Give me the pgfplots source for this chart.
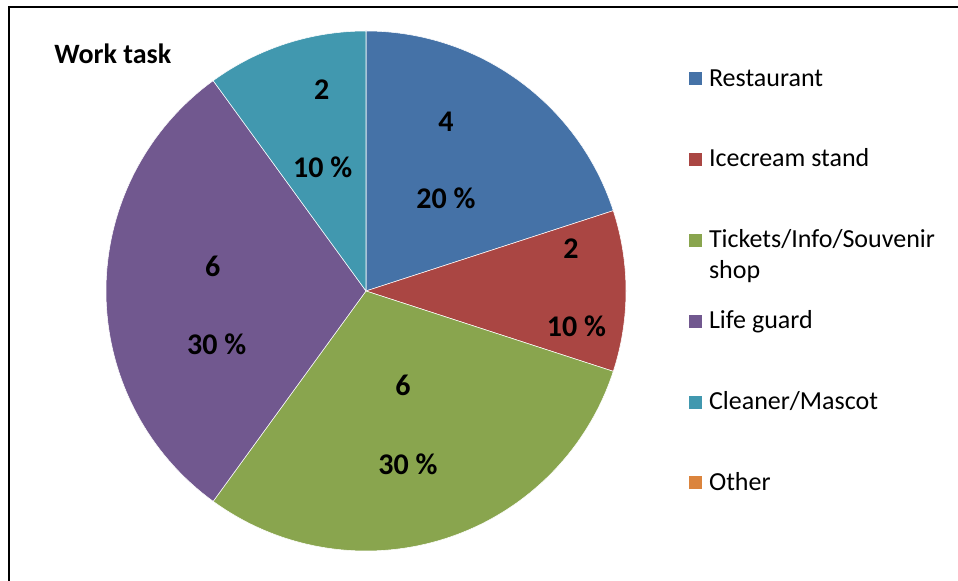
\documentclass[border=0pt]{standalone}
\usepackage{pgfplots}
\usepackage{pgfplotstable}
\pgfplotsset{compat=1.18}
\usepackage{fontspec}
\setmainfont{Carlito}

\definecolor{cRest}{HTML}{4572A7}
\definecolor{cIce}{HTML}{AA4643}
\definecolor{cTick}{HTML}{89A54E}
\definecolor{cLife}{HTML}{71588F}
\definecolor{cClean}{HTML}{4198AF}
\definecolor{cOther}{HTML}{DB843D}

\pgfplotsset{sqlegend/.style={legend image code/.code={\fill[##1] (0pt,-5.25pt) rectangle (10.5pt,5.25pt);}}}

\pgfplotstableread{
task value color
Restaurant 4 cRest
Icecream 2 cIce
Tickets 6 cTick
Lifeguard 6 cLife
Cleaner 2 cClean
Other 0 cOther
}\worktable

\newcommand{\legtext}[1]{\raisebox{0pt}[13pt][1pt]{#1}}

\begin{document}
\begin{tikzpicture}[x=0.75pt,y=0.75pt]
\path[use as bounding box] (0,0) rectangle (958,581);
\draw[line width=1.9pt, black] (9,-10) -- (9,574) -- (980,574);
\node[font=\fontsize{21}{25}\selectfont\bfseries, anchor=base] at (112.8,517.7) {Work task};
\begin{axis}[
  at={(274.5pt,217.5pt)}, anchor=center,
  scale only axis, width=390pt, height=390pt,
  xmin=-1, xmax=1, ymin=-1, ymax=1,
  hide axis,
  legend style={draw=none, fill=none, inner sep=0pt, outer sep=0pt,
    at={(1.1192,0.9275)}, anchor=north west,
    font=\fontsize{19.5}{23.25}\selectfont,
    row sep=46.15pt, column sep=5pt,
    nodes={inner sep=0pt}, cells={anchor=west}},
]
\addlegendimage{sqlegend, fill=cRest, draw=white, line width=0.3pt}
\addlegendentry{\legtext{Restaurant}}
\addlegendimage{sqlegend, fill=cIce, draw=white, line width=0.3pt}
\addlegendentry{\legtext{Icecream stand}}
\addlegendimage{sqlegend, fill=cTick, draw=white, line width=0.3pt}
\addlegendentry{\legtext{\begin{tabular}[t]{@{}l@{}}Tickets/Info/Souvenir\\shop\end{tabular}}}
\addlegendimage{sqlegend, fill=cLife, draw=white, line width=0.3pt}
\addlegendentry{\legtext{Life guard}}
\addlegendimage{sqlegend, fill=cClean, draw=white, line width=0.3pt}
\addlegendentry{\legtext{Cleaner/Mascot}}
\addlegendimage{sqlegend, fill=cOther, draw=white, line width=0.3pt}
\addlegendentry{\legtext{Other}}

\xdef\cum{0}
\pgfplotsforeachungrouped \i in {0,...,4} {
  \pgfplotstablegetelem{\i}{value}\of\worktable
  \let\v\pgfplotsretval
  \pgfplotstablegetelem{\i}{color}\of\worktable
  \let\col\pgfplotsretval
  \pgfmathsetmacro\sa{90-360*\cum/20}
  \pgfmathsetmacro\ea{90-360*(\cum+\v)/20}
  \pgfmathsetmacro\newcum{\cum+\v}
  \xdef\cum{\newcum}
  \edef\temp{\noexpand\addplot[fill=\col, draw=white, line width=0.4pt, data cs=polar, mark=none] coordinates {(0,0) (\sa,1)} arc[start angle=\sa, end angle=\ea, radius=195pt] -- cycle;}
  \temp
}

\begin{scope}[font=\fontsize{22.5}{27}\selectfont\bfseries]
\node[anchor=base] at (axis cs:0.3077,0.6135) {4};
\node[anchor=base] at (axis cs:0.3077,0.3173) {20 \%};
\node[anchor=base] at (axis cs:0.7885,0.1231) {2};
\node[anchor=base] at (axis cs:0.8096,-0.1758) {10 \%};
\node[anchor=base] at (axis cs:0.1423,-0.4019) {6};
\node[anchor=base] at (axis cs:0.1615,-0.7058) {30 \%};
\node[anchor=base] at (axis cs:-0.5896,0.0546) {6};
\node[anchor=base] at (axis cs:-0.5742,-0.2442) {30 \%};
\node[anchor=base] at (axis cs:-0.1704,0.7365) {2};
\node[anchor=base] at (axis cs:-0.1665,0.4354) {10 \%};
\end{scope}
\end{axis}
\end{tikzpicture}
\end{document}
